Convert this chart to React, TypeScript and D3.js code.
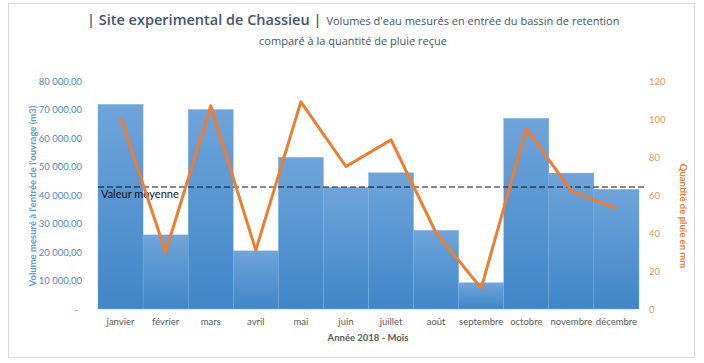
import React from "react";
import * as d3 from "d3";

// données
const months = ["janvier", "février", "mars", "avril", "mai", "juin", "juillet", "août", "septembre", "octobre", "novembre", "décembre"];
const volumes = [71800, 26000, 70000, 20400, 53200, 42700, 47800, 27600, 9200, 66900, 47700, 42000];
const rain = [101, 30, 107, 31, 109, 75, 89, 40, 11, 95, 62, 53];
const meanVolume = 42800;
const leftTicks = [0, 10000, 20000, 30000, 40000, 50000, 60000, 70000, 80000];
const rightTicks = [0, 20, 40, 60, 80, 100, 120];

const W = 704;
const H = 363;
const plot = { left: 98, right: 639, top: 81, bottom: 309 };

const fr = d3.formatLocale({ decimal: ",", thousands: "\u00a0", grouping: [3], currency: ["", " €"] });
const fmt = fr.format(",.2f");

const sans = "Lato, 'Open Sans', sans-serif";

export default function App() {
    const x = d3.scaleBand().domain(months).range([plot.left, plot.right]).padding(0);
    const yL = d3.scaleLinear().domain([0, 80000]).range([plot.bottom, plot.top]);
    const yR = d3.scaleLinear().domain([0, 120]).range([plot.bottom, plot.top]);

    const line = d3.line<number>()
        .x((d, i) => (x(months[i]) as number) + x.bandwidth() / 2)
        .y((d) => yR(d));

    return (
        <svg width={W} height={H} style={{ position: "absolute", left: 0, top: 0, display: "block" }}>
            <defs>
                <linearGradient id="barGrad" x1="0" y1="0" x2="0" y2="1">
                    <stop offset="0%" stopColor="#6fa4da" />
                    <stop offset="100%" stopColor="#3f86c8" />
                </linearGradient>
            </defs>
            <rect x={8.5} y={3.5} width={686} height={354} fill="#fff" stroke="#d9d9d9" />

            {/* titre */}
            <text x={87} y={25} fontFamily="'Open Sans', sans-serif" fill="#44546a">
                <tspan fontSize="14.5" fontWeight="600">| Site experimental de Chassieu |</tspan>
                <tspan fontSize="11" dx="5">Volumes d'eau mesurés en entrée du bassin de retention</tspan>
            </text>
            <text x={353} y={45} textAnchor="middle" fontFamily="'Open Sans', sans-serif" fontSize="11" fill="#44546a">
                comparé à la quantité de pluie reçue
            </text>

            {/* barres */}
            {volumes.map((v, i) => (
                <rect key={i}
                    x={x(months[i])}
                    y={yL(v)}
                    width={x.bandwidth()}
                    height={plot.bottom - yL(v)}
                    fill="url(#barGrad)"
                    stroke="#7eafe0" strokeWidth="0.4"
                />
            ))}

            {/* valeur moyenne */}
            <line x1={plot.left} x2={647} y1={yL(meanVolume)} y2={yL(meanVolume)}
                stroke="#111" strokeWidth="1" strokeDasharray="6 3" />
            <text x={101} y={yL(meanVolume) + 11} fontFamily={sans} fontSize="11" fill="#111">Valeur moyenne</text>

            {/* pluie */}
            <path d={line(rain) || ""} fill="none" stroke="#ed7d31" strokeWidth="3" strokeLinejoin="round" />

            {/* axe gauche */}
            {leftTicks.map((t) => (
                <text key={t} x={t === 0 ? 78 : 82} y={yL(t) + 3.5} textAnchor="end"
                    fontFamily={sans} fontSize="9.5" fill="#5088c4">
                    {t === 0 ? "-" : fmt(t)}
                </text>
            ))}
            <text transform={`translate(36 ${(plot.top + plot.bottom) / 2 + 1}) rotate(-90)`} textAnchor="middle"
                fontFamily={sans} fontSize="9.5" fontWeight="bold" fill="#5b9bd5">
                Volume mesuré à l'entrée de l'ouvrage (m3)
            </text>

            {/* axe droit */}
            {rightTicks.map((t) => (
                <text key={t} x={649} y={yR(t) + 3.5} fontFamily={sans} fontSize="9.5" fill="#e0965c">
                    {t}
                </text>
            ))}
            <text transform={`translate(680 216) rotate(90)`} textAnchor="middle"
                fontFamily={sans} fontSize="9.5" fontWeight="bold" fill="#ed7d31">
                Quantité de pluie en mm
            </text>

            {/* axe des mois */}
            {months.map((m) => (
                <text key={m} x={(x(m) as number) + x.bandwidth() / 2} y={325} textAnchor="middle"
                    fontFamily={sans} fontSize="9.5" fill="#595959">
                    {m}
                </text>
            ))}
            <text x={368} y={341} textAnchor="middle" fontFamily={sans} fontSize="9.5" fontWeight="bold" fill="#595959">
                Année 2018 - Mois
            </text>
        </svg>
    );
}
